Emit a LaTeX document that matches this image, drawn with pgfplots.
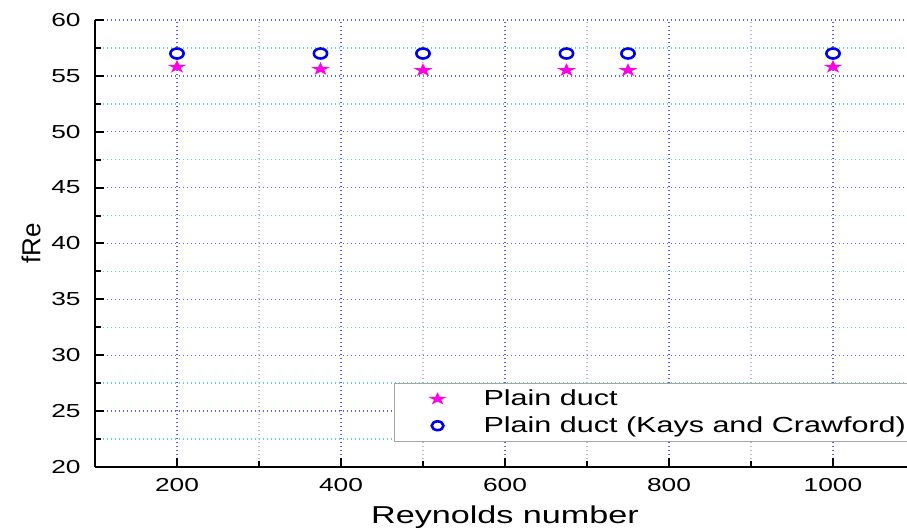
\documentclass[border=0pt]{standalone}
\usepackage{pgfplots}
\pgfplotsset{compat=1.18}
\usepackage{fontspec}
\setmainfont[FakeStretch=1.4]{Liberation Sans}
\newfontfamily\plainsans{Liberation Sans}

\definecolor{gridblue}{RGB}{95,95,245}
\definecolor{gridcyan}{RGB}{90,215,205}
\definecolor{gridgray}{RGB}{185,185,200}
\definecolor{starmag}{RGB}{255,0,230}
\definecolor{ringblue}{RGB}{0,0,240}

% filled five-pointed star
\pgfdeclareplotmark{fstar}{%
  \pgfpathmoveto{\pgfpointpolar{90}{\pgfplotmarksize}}%
  \pgfpathlineto{\pgfpointpolar{126}{0.382\pgfplotmarksize}}%
  \pgfpathlineto{\pgfpointpolar{162}{\pgfplotmarksize}}%
  \pgfpathlineto{\pgfpointpolar{198}{0.382\pgfplotmarksize}}%
  \pgfpathlineto{\pgfpointpolar{234}{\pgfplotmarksize}}%
  \pgfpathlineto{\pgfpointpolar{270}{0.382\pgfplotmarksize}}%
  \pgfpathlineto{\pgfpointpolar{306}{\pgfplotmarksize}}%
  \pgfpathlineto{\pgfpointpolar{342}{0.382\pgfplotmarksize}}%
  \pgfpathlineto{\pgfpointpolar{18}{\pgfplotmarksize}}%
  \pgfpathlineto{\pgfpointpolar{54}{0.382\pgfplotmarksize}}%
  \pgfpathclose
  \pgfusepathqfill}

\begin{document}
\begin{tikzpicture}
\clip (-47.5pt,-31.5pt) rectangle (406pt,233.5pt);
\begin{axis}[
  scale only axis,
  width=410pt, height=223.5pt,
  xmin=100, xmax=1100,
  ymin=20, ymax=60,
  axis lines=left,
  axis line style={line width=1pt,-},
  xtick={200,400,...,1000},
  minor xtick={300,500,700,900},
  ytick={20,25,...,60},
  minor ytick={22.5,27.5,...,57.5},
  tick align=inside,
  major tick length=4.5pt,
  minor tick length=3pt,
  tick style={line width=1pt,black},
  grid=both,
  major grid style={gridblue,line width=0.7pt,dash pattern=on 0.6pt off 1.4pt},
  minor x grid style={gridgray,line width=0.7pt,dash pattern=on 0.6pt off 1.4pt},
  minor y grid style={gridcyan,line width=0.7pt,dash pattern=on 0.6pt off 1.4pt},
  /pgf/number format/assume math mode=true,
  /pgf/number format/1000 sep={},
  ticklabel style={font=\fontsize{9.4}{11}\selectfont, inner sep=0pt},
  xticklabel style={anchor=center, yshift=-9pt},
  yticklabel style={anchor=east, xshift=-7pt},
  xlabel={Reynolds number},
  ylabel={fRe},
  xlabel style={font=\fontsize{12.2}{14}\selectfont,at={(axis description cs:0.5,0)},anchor=center,yshift=-25pt},
  ylabel style={font=\plainsans\fontsize{13}{15}\selectfont,at={(axis description cs:0,0.5)},anchor=center,yshift=32pt},
  legend style={
    at={(axis cs:464.6,27.52)}, anchor=north west,
    draw=gray!70, line width=0.6pt, fill=white,
    font=\fontsize{10.9}{13}\selectfont,
    inner xsep=3pt, inner ysep=1pt,
    row sep=0pt,
    cells={anchor=west},
  },
  legend image code/.code={%
    \path[draw=none,fill=none] (0pt,0pt) -- (39.5pt,0pt);
    \draw[#1] plot coordinates {(18.5pt,0pt)};},
]
\addplot[only marks, mark=*, mark size=2.5pt, draw=ringblue, fill=white, line width=1.3pt,
  mark options={xscale=1.33}, forget plot]
  coordinates {(200,57) (375,57) (500,57) (675,57) (750,57) (1000,57)};
\addplot[only marks, mark=fstar, mark size=3.5pt, draw=none, fill=starmag,
  mark options={xscale=1.45}, forget plot]
  coordinates {(200,55.8) (375,55.6) (500,55.5) (675,55.5) (750,55.5) (1000,55.8)};
\addlegendimage{only marks, mark=fstar, mark size=3.4pt, draw=none, fill=starmag, mark options={xscale=1.45}}
\addlegendentry{Plain duct}
\addlegendimage{only marks, mark=*, mark size=2.2pt, draw=ringblue, fill=white, line width=1.3pt, mark options={xscale=1.33}}
\addlegendentry{Plain duct (Kays and Crawford)}
\end{axis}
\end{tikzpicture}
\end{document}
